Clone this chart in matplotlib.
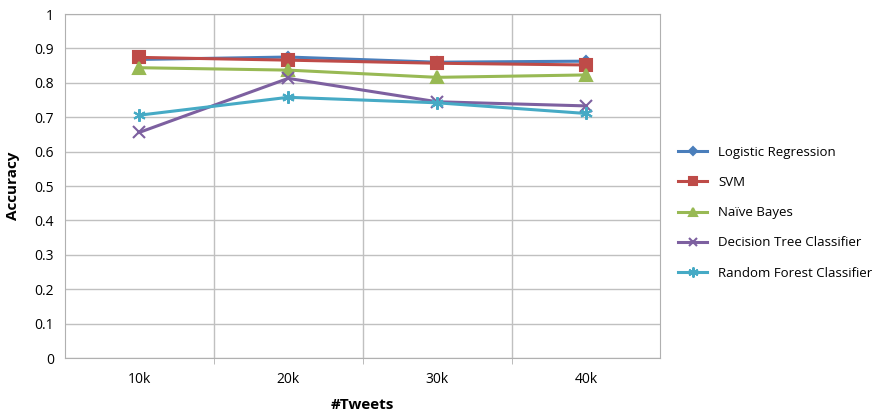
import matplotlib.pyplot as plt
import numpy as np

plt.rcParams['font.family'] = ['Open Sans', 'DejaVu Sans']

tweets = ['10k', '20k', '30k', '40k']
logistic = [0.868, 0.875, 0.860, 0.863]
svm = [0.874, 0.866, 0.857, 0.852]
naive = [0.844, 0.837, 0.816, 0.823]
dtree = [0.656, 0.813, 0.745, 0.733]
rforest = [0.706, 0.758, 0.742, 0.711]

names = ['Logistic Regression', 'SVM', 'Naïve Bayes',
         'Decision Tree Classifier', 'Random Forest Classifier']
series = [logistic, svm, naive, dtree, rforest]
colors = ['#4A7EBB', '#BE4B48', '#98B954', '#7D60A0', '#46AAC5']
markers = ['D', 's', '^', 'x', (6, 2, 0)]
msizes = [5, 8, 8, 8, 9]

fig = plt.figure(figsize=(8.77, 4.13), dpi=100)
ax = fig.add_axes([0.074, 0.133, 0.679, 0.833])

x = np.arange(len(tweets))
for vals, name, c, m, ms in zip(series, names, colors, markers, msizes):
    ax.plot(x, vals, color=c, marker=m, markersize=ms, linewidth=2.2,
            markeredgewidth=1.5, label=name)

ax.set_xlim(-0.5, 3.5)
ax.set_ylim(0, 1)
ax.set_yticks(np.arange(0, 1.01, 0.1))
ax.set_yticklabels(['0'] + ['%.1f' % v for v in np.arange(0.1, 0.95, 0.1)] + ['1'])
ax.set_xticks(x)
ax.set_xticklabels(tweets)
ax.set_xticks([0.5, 1.5, 2.5], minor=True)

ax.grid(axis='y', color='#C0C0C0', linewidth=1)
ax.grid(axis='x', which='minor', color='#C0C0C0', linewidth=1)
ax.set_axisbelow(True)
for s in ax.spines.values():
    s.set_color('#B0B0B0')
ax.tick_params(axis='x', which='major', length=0, pad=10, labelsize=10)
ax.tick_params(axis='x', which='minor', length=4, color='#B0B0B0')
ax.tick_params(axis='y', length=0, pad=8, labelsize=10)

ax.set_xlabel('#Tweets', fontsize=11, fontweight='bold', labelpad=8)
ax.set_ylabel('Accuracy', fontsize=11, fontweight='bold', labelpad=10)

fig.legend(loc='center left', bbox_to_anchor=(0.76, 0.485), frameon=False,
           fontsize=9.5, handlelength=2.2, labelspacing=1.3, markerscale=0.8)

fig.savefig('out.png', dpi=100)
